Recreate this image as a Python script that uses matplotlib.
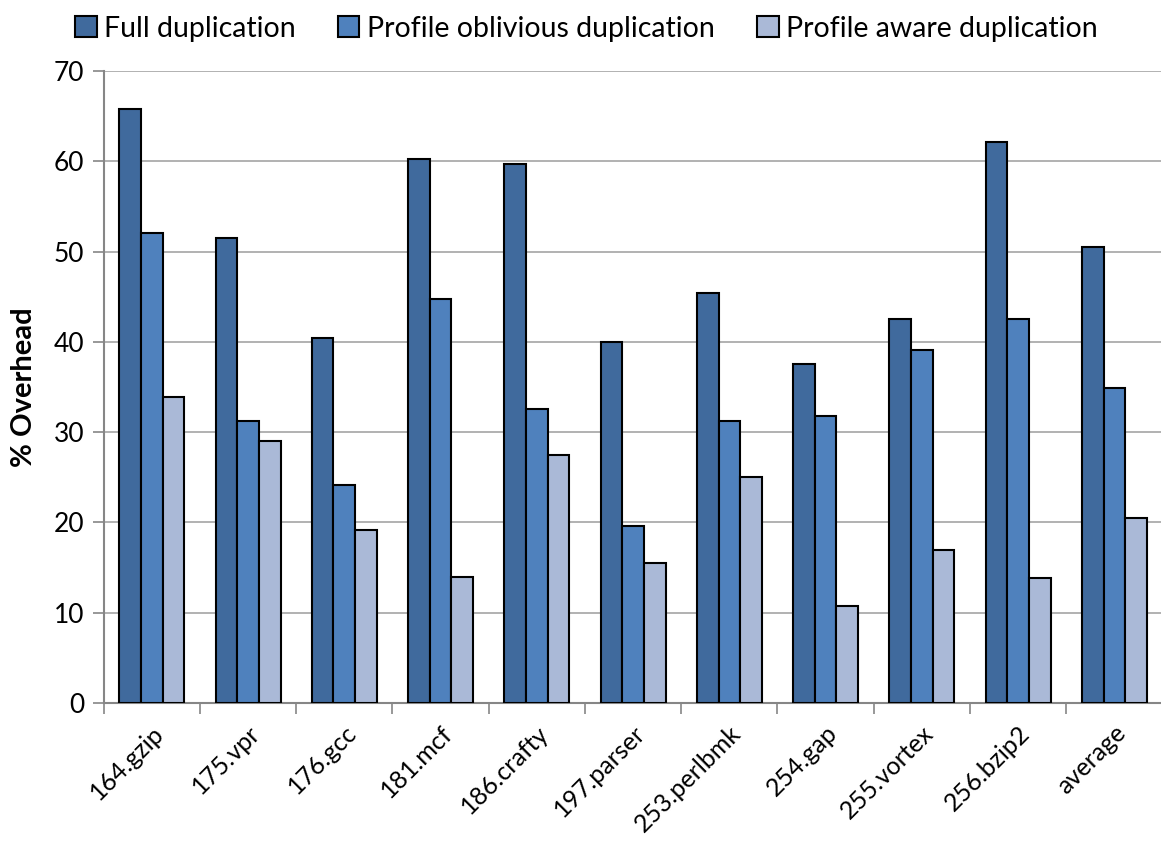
import numpy as np
import matplotlib
matplotlib.use("Agg")
import matplotlib.pyplot as plt

# Benchmarks and overhead (%) for each duplication scheme
benchmarks = ["164.gzip", "175.vpr", "176.gcc", "181.mcf", "186.crafty", "197.parser",
              "253.perlbmk", "254.gap", "255.vortex", "256.bzip2", "average"]
full_dup = [65.8, 51.5, 40.4, 60.3, 59.7, 40.0, 45.4, 37.6, 42.5, 62.1, 50.5]
oblivious_dup = [52.1, 31.2, 24.1, 44.8, 32.6, 19.6, 31.2, 31.8, 39.1, 42.5, 34.9]
aware_dup = [33.9, 29.0, 19.2, 14.0, 27.5, 15.5, 25.0, 10.7, 16.9, 13.9, 20.5]

series = ["Full duplication", "Profile oblivious duplication", "Profile aware duplication"]
colors = ["#406A9D", "#4F81BD", "#AAB9D7"]

plt.rcParams["font.family"] = ["Lato", "DejaVu Sans"]

fig = plt.figure(figsize=(11.61, 8.43), dpi=100)
ax = fig.add_axes([0.0893, 0.166, 0.912, 0.7498])

x = np.arange(len(benchmarks))
w = 0.225
for i, (vals, name, c) in enumerate(zip([full_dup, oblivious_dup, aware_dup], series, colors)):
    ax.bar(x + (i - 1) * w, vals, w, color=c, edgecolor="black", linewidth=1.5,
           label=name, zorder=3)

ax.set_xlim(-0.5, len(benchmarks) - 0.5)
ax.set_ylim(0, 70)
ax.set_yticks(range(0, 71, 10))
ax.yaxis.grid(True, color="#ABABAB", linewidth=1.3, zorder=0)
ax.tick_params(axis="y", labelsize=19, length=8, width=1.2, color="#868686", pad=6)

# category labels at group centres, tick marks between groups
ax.set_xticks(x)
ax.set_xticklabels(benchmarks, rotation=45, ha="right", rotation_mode="anchor", fontsize=18)
ax.tick_params(axis="x", which="major", length=0, pad=13)
ax.set_xticks(np.arange(-0.5, len(benchmarks)), minor=True)
ax.tick_params(axis="x", which="minor", length=8, width=1.2, color="#868686")

for side in ["top", "right"]:
    ax.spines[side].set_visible(False)
for side in ["left", "bottom"]:
    ax.spines[side].set_color("#868686")
    ax.spines[side].set_linewidth(1.5)

ax.set_ylabel("% Overhead", fontsize=21, fontweight="bold", labelpad=12)

fig.legend(loc="upper center", bbox_to_anchor=(0.505, 1.012), ncol=3, frameon=False,
           fontsize=20.5, handlelength=0.75, handleheight=0.75, handletextpad=0.25,
           columnspacing=1.5)

fig.savefig("out.png", dpi=100)
